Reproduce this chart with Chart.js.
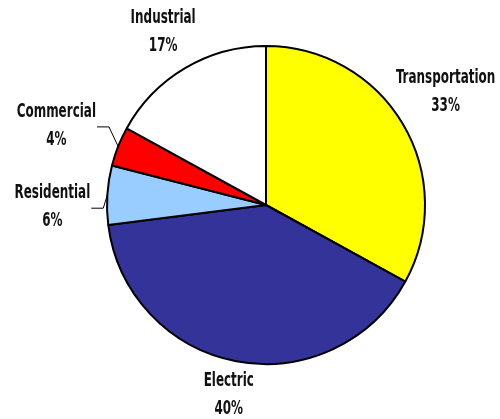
<!DOCTYPE html>
<html>
<head>
<meta charset="utf-8">
<script src="https://cdn.jsdelivr.net/npm/chart.js@4"></script>
<style>
  body { margin: 0; background: #fff; }
  #wrap { width: 500px; height: 419px; position: relative; }
</style>
</head>
<body>
<div id="wrap"><canvas id="myChart"></canvas></div>
<script>
const sectors = ['Transportation', 'Electric', 'Residential', 'Commercial', 'Industrial'];
const shares = [33, 40, 6, 4, 17];
const sectorColors = ['#ffff00', '#333399', '#99ccff', '#ff0000', '#ffffff'];

// label nudges from a plain radial placement, and which labels get a leader line
const labelNudge = [[4, -9], [1, -10], [-10, 15], [-20, -4], [1, 3]];
const leaderLine = [false, false, true, true, false];

const fontFamily = '"DejaVu Sans Condensed", "DejaVu Sans", sans-serif';
const squeeze = 0.7; // the original font is very narrow

function narrowText(ctx, text, x, y) {
  ctx.save();
  ctx.translate(x, y);
  ctx.scale(squeeze, 1);
  ctx.fillText(text, 0, 0);
  ctx.restore();
}

const pieLabels = {
  id: 'pieLabels',
  afterDatasetsDraw(chart) {
    const ctx = chart.ctx;
    const meta = chart.getDatasetMeta(0);
    ctx.save();
    ctx.font = 'bold 19px ' + fontFamily;
    ctx.fillStyle = '#111';
    ctx.textAlign = 'center';
    ctx.textBaseline = 'middle';
    meta.data.forEach((arc, i) => {
      const mid = (arc.startAngle + arc.endAngle) / 2;
      const dist = arc.outerRadius + 45;
      const x = arc.x + Math.cos(mid) * dist + labelNudge[i][0];
      const y = arc.y + Math.sin(mid) * dist + labelNudge[i][1];
      narrowText(ctx, sectors[i], x, y - 14);
      narrowText(ctx, shares[i] + '%', x, y + 14);

      if (leaderLine[i]) {
        const w = ctx.measureText(sectors[i]).width * squeeze;
        const x0 = x + w / 2 + 1;
        const y0 = y + 1;
        const ex = arc.x + Math.cos(mid) * arc.outerRadius;
        const ey = arc.y + Math.sin(mid) * arc.outerRadius;
        ctx.beginPath();
        ctx.strokeStyle = '#000';
        ctx.lineWidth = 1;
        ctx.moveTo(x0, y0);
        ctx.lineTo(x0 + 12, y0);
        ctx.lineTo(ex, ey);
        ctx.stroke();
      }
    });
    ctx.restore();
  }
};

const ctx = document.getElementById('myChart').getContext('2d');
const myChart = new Chart(ctx, {
  type: 'pie',
  data: {
    labels: sectors,
    datasets: [{
      data: shares,
      backgroundColor: sectorColors,
      borderColor: '#000',
      borderWidth: 2
    }]
  },
  options: {
    maintainAspectRatio: false,
    responsive: true,
    animation: false,
    layout: {
      padding: { top: 45, bottom: 54, left: 106, right: 74 }
    },
    plugins: {
      legend: { display: false },
      tooltip: { enabled: false }
    }
  },
  plugins: [pieLabels]
});
</script>
</body>
</html>
